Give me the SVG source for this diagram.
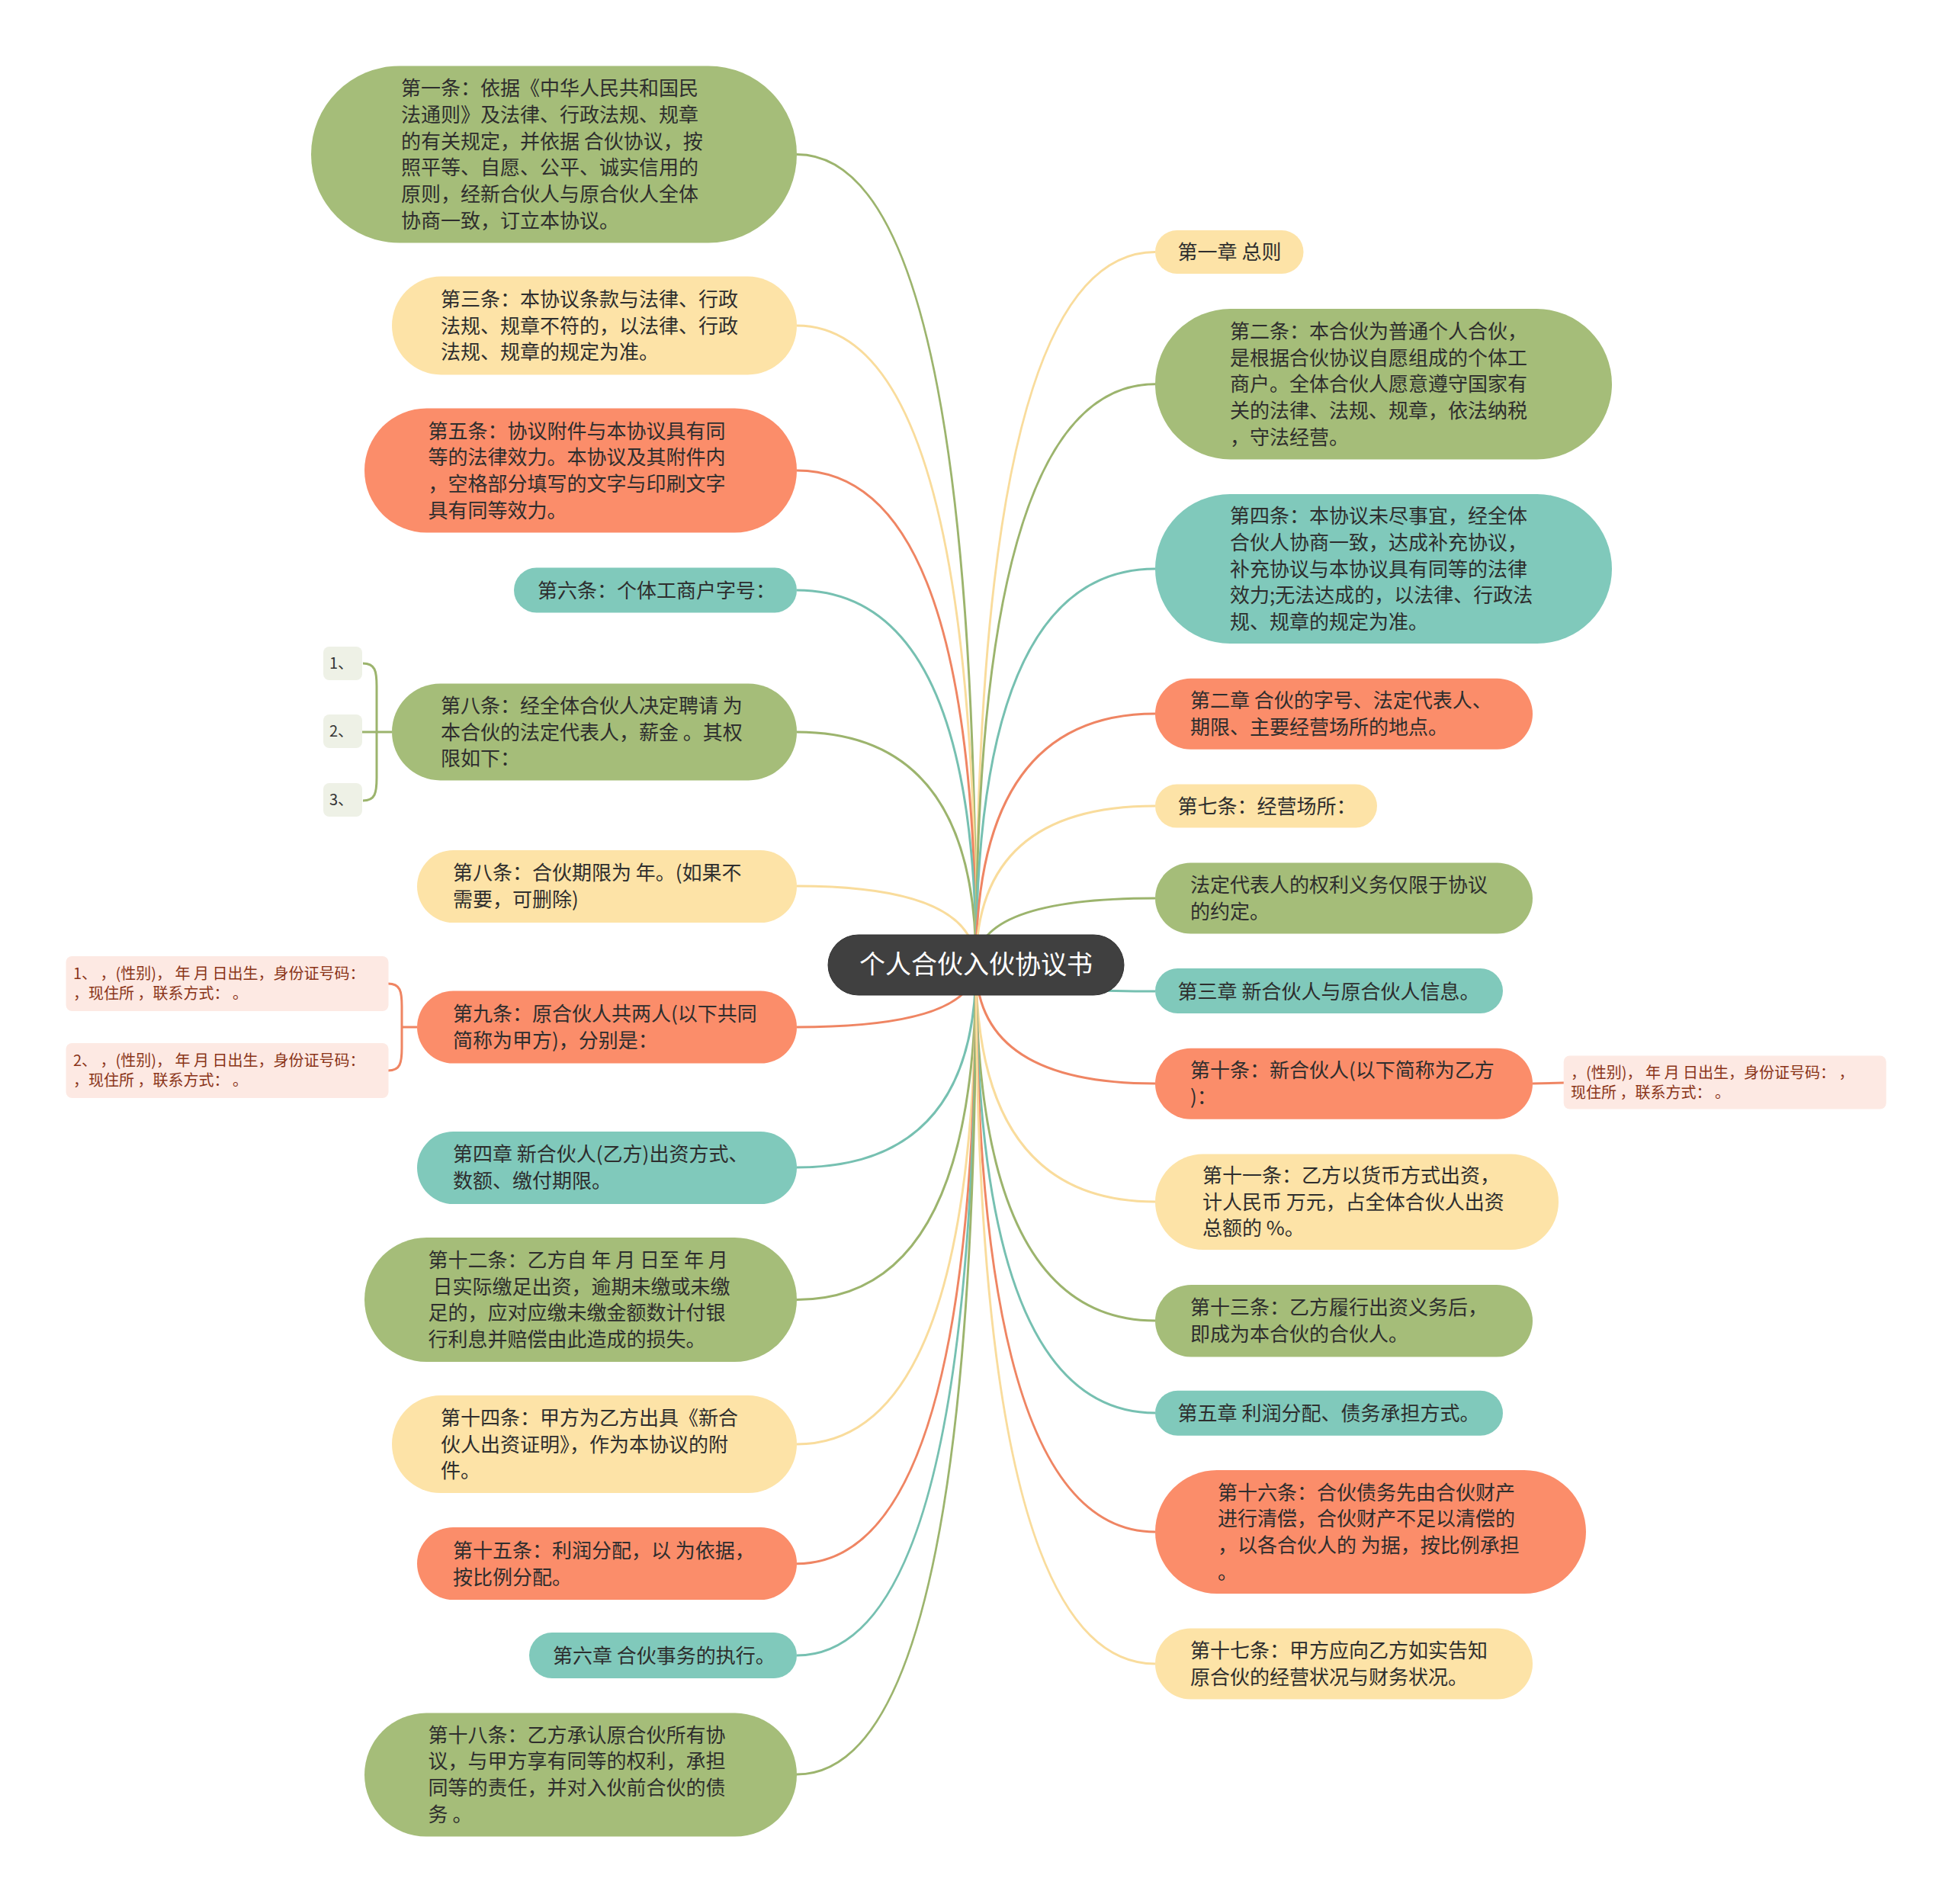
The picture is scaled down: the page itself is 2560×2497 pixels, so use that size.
<svg xmlns="http://www.w3.org/2000/svg" width="2560" height="2497" viewBox="0 0 2560 2497">
<style>
.t{font-family:"Noto Sans CJK SC","Noto Sans",sans-serif;font-size:26px;fill:#2e2e2e}
.s{font-family:"Noto Sans CJK SC","Noto Sans",sans-serif;font-size:20px;fill:#8a3418}
.n{font-family:"Noto Sans CJK SC","Noto Sans",sans-serif;font-size:20px;fill:#333}
.c{font-family:"Noto Sans CJK SC","Noto Sans",sans-serif;font-size:34px;fill:#fff}
.gr{fill:#a5bd79}.ye{fill:#fde3a7}.or{fill:#fb8d6a}.te{fill:#80c9bb}
.pk{fill:#fde9e3}.lg{fill:#eef1e6}
.lgr{stroke:#9cb46d}.lye{stroke:#f9dc9c}.lor{stroke:#ef8563}.lte{stroke:#76c0b1}
#connectors path{fill:none;stroke-width:3}
</style>
<rect width="2560" height="2497" fill="#fff"/>
<g id="connectors">
<path class="lgr" d="M1280,1265 Q1280,202.5 1045,202.5"/>
<path class="lye" d="M1280,1265 Q1280,427 1045,427"/>
<path class="lor" d="M1280,1265 Q1280,617 1045,617"/>
<path class="lte" d="M1280,1265 Q1280,774 1045,774"/>
<path class="lgr" d="M1280,1265 Q1280,960 1045,960"/>
<path class="lye" d="M1280,1265 Q1280,1162 1045,1162"/>
<path class="lor" d="M1280,1265 Q1280,1347 1045,1347"/>
<path class="lte" d="M1280,1265 Q1280,1531 1045,1531"/>
<path class="lgr" d="M1280,1265 Q1280,1704.5 1045,1704.5"/>
<path class="lye" d="M1280,1265 Q1280,1894 1045,1894"/>
<path class="lor" d="M1280,1265 Q1280,2050.7 1045,2050.7"/>
<path class="lte" d="M1280,1265 Q1280,2171 1045,2171"/>
<path class="lgr" d="M1280,1265 Q1280,2327 1045,2327"/>
<path class="lye" d="M1280,1265 Q1280,330.6 1515,330.6"/>
<path class="lgr" d="M1280,1265 Q1280,503.7 1515,503.7"/>
<path class="lte" d="M1280,1265 Q1280,746 1515,746"/>
<path class="lor" d="M1280,1265 Q1280,936 1515,936"/>
<path class="lye" d="M1280,1265 Q1280,1057 1515,1057"/>
<path class="lgr" d="M1280,1265 Q1280,1178 1515,1178"/>
<path class="lte" d="M1280,1265 Q1280,1300 1515,1300"/>
<path class="lor" d="M1280,1265 Q1280,1421 1515,1421"/>
<path class="lye" d="M1280,1265 Q1280,1576 1515,1576"/>
<path class="lgr" d="M1280,1265 Q1280,1732 1515,1732"/>
<path class="lte" d="M1280,1265 Q1280,1853 1515,1853"/>
<path class="lor" d="M1280,1265 Q1280,2009 1515,2009"/>
<path class="lye" d="M1280,1265 Q1280,2182 1515,2182"/>
<path class="lgr" d="M514,960 L475,960 M476,870 C492,870 494,880 494,900 L494,1020 C494,1040 492,1050 476,1050"/>
<path class="lor" d="M547,1347 L527,1347 M509,1290 C525,1290 527,1300 527,1320 L527,1374 C527,1394 525,1404 509,1404"/>
<path class="lor" d="M2010,1421 L2051,1420"/>
</g>
<g id="center">
<rect x="1086" y="1226" width="388" height="79" rx="39.5" fill="#404040" stroke="#333" stroke-width="1"/>
<text class="c" x="1280" y="1277" text-anchor="middle">个人合伙入伙协议书</text>
</g>
<g id="n-l1"><rect class="gr" x="408" y="86.5" width="637" height="232" rx="116"/>
<text class="t"><tspan x="526" y="125.3">第一条：依据《中华人民共和国民</tspan><tspan x="526" y="160">法通则》及法律、行政法规、规章</tspan><tspan x="526" y="194.7">的有关规定，并依据 合伙协议，按</tspan><tspan x="526" y="229.4">照平等、自愿、公平、诚实信用的</tspan><tspan x="526" y="264.1">原则，经新合伙人与原合伙人全体</tspan><tspan x="526" y="298.8">协商一致，订立本协议。</tspan></text></g>
<g id="n-l2"><rect class="ye" x="514" y="362.5" width="531" height="129" rx="64.5"/>
<text class="t"><tspan x="578" y="401.8">第三条：本协议条款与法律、行政</tspan><tspan x="578" y="436.5">法规、规章不符的，以法律、行政</tspan><tspan x="578" y="471.2">法规、规章的规定为准。</tspan></text></g>
<g id="n-l3"><rect class="or" x="478" y="535.5" width="567" height="163" rx="81.5"/>
<text class="t"><tspan x="561.6" y="574.5">第五条：协议附件与本协议具有同</tspan><tspan x="561.6" y="609.2">等的法律效力。本协议及其附件内</tspan><tspan x="561.6" y="643.9">，空格部分填写的文字与印刷文字</tspan><tspan x="561.6" y="678.6">具有同等效力。</tspan></text></g>
<g id="n-l4"><rect class="te" x="674" y="744.5" width="371" height="59" rx="29.5"/>
<text class="t" x="705" y="783.5">第六条：个体工商户字号：</text></g>
<g id="n-l5"><rect class="gr" x="514" y="896.4" width="531" height="127" rx="63.5"/>
<text class="t"><tspan x="578" y="934.8">第八条：经全体合伙人决定聘请 为</tspan><tspan x="578" y="969.5">本合伙的法定代表人，薪金 。其权</tspan><tspan x="578" y="1004.2">限如下：</tspan></text></g>
<g id="n-l5a"><rect class="lg" x="424" y="848" width="51" height="44" rx="8"/><text class="n" x="432" y="877">1、</text></g>
<g id="n-l5b"><rect class="lg" x="424" y="937" width="51" height="44" rx="8"/><text class="n" x="432" y="966">2、</text></g>
<g id="n-l5c"><rect class="lg" x="424" y="1027" width="51" height="44" rx="8"/><text class="n" x="432" y="1056">3、</text></g>
<g id="n-l6"><rect class="ye" x="547" y="1115" width="498" height="95" rx="47.5"/>
<text class="t"><tspan x="594" y="1154.2">第八条：合伙期限为 年。(如果不</tspan><tspan x="594" y="1188.9">需要，可删除)</tspan></text></g>
<g id="n-l7"><rect class="or" x="547" y="1299.6" width="498" height="95" rx="47.5"/>
<text class="t"><tspan x="594" y="1339.2">第九条：原合伙人共两人(以下共同</tspan><tspan x="594" y="1373.9">简称为甲方)，分别是：</tspan></text></g>
<g id="n-l7a"><rect class="pk" x="86.5" y="1254" width="423" height="72" rx="8"/>
<text class="s"><tspan x="96" y="1284">1、 ，(性别)， 年 月 日出生，身份证号码：</tspan><tspan x="96" y="1310">，现住所 ，联系方式： 。</tspan></text></g>
<g id="n-l7b"><rect class="pk" x="86.5" y="1368" width="423" height="72" rx="8"/>
<text class="s"><tspan x="96" y="1398">2、 ，(性别)， 年 月 日出生，身份证号码：</tspan><tspan x="96" y="1424">，现住所 ，联系方式： 。</tspan></text></g>
<g id="n-l8"><rect class="te" x="547" y="1484" width="498" height="95" rx="47.5"/>
<text class="t"><tspan x="594" y="1523.2">第四章 新合伙人(乙方)出资方式、</tspan><tspan x="594" y="1557.9">数额、缴付期限。</tspan></text></g>
<g id="n-l9"><rect class="gr" x="478" y="1623" width="567" height="163" rx="81.5"/>
<text class="t"><tspan x="561.6" y="1662">第十二条：乙方自 年 月 日至 年 月</tspan><tspan x="561.6" y="1696.7"> 日实际缴足出资，逾期未缴或未缴</tspan><tspan x="561.6" y="1731.4">足的，应对应缴未缴金额数计付银</tspan><tspan x="561.6" y="1766.1">行利息并赔偿由此造成的损失。</tspan></text></g>
<g id="n-l10"><rect class="ye" x="514" y="1830" width="531" height="128" rx="64"/>
<text class="t"><tspan x="578" y="1868.8">第十四条：甲方为乙方出具《新合</tspan><tspan x="578" y="1903.5">伙人出资证明》，作为本协议的附</tspan><tspan x="578" y="1938.2">件。</tspan></text></g>
<g id="n-l11"><rect class="or" x="547" y="2003" width="498" height="95" rx="47.5"/>
<text class="t"><tspan x="594" y="2042.9">第十五条：利润分配，以 为依据，</tspan><tspan x="594" y="2077.6">按比例分配。</tspan></text></g>
<g id="n-l12"><rect class="te" x="694" y="2141" width="351" height="60" rx="30"/>
<text class="t" x="725" y="2180.5">第六章 合伙事务的执行。</text></g>
<g id="n-l13"><rect class="gr" x="478" y="2246.6" width="567" height="162" rx="81"/>
<text class="t"><tspan x="561.6" y="2284.5">第十八条：乙方承认原合伙所有协</tspan><tspan x="561.6" y="2319.2">议，与甲方享有同等的权利，承担</tspan><tspan x="561.6" y="2353.9">同等的责任，并对入伙前合伙的债</tspan><tspan x="561.6" y="2388.6">务 。</tspan></text></g>
<g id="n-r1"><rect class="ye" x="1515" y="302" width="194.5" height="57" rx="28.5"/>
<text class="t" x="1544.6" y="340.1">第一章 总则</text></g>
<g id="n-r2"><rect class="gr" x="1515" y="405" width="599" height="197.5" rx="98.7"/>
<text class="t"><tspan x="1613" y="443.8">第二条：本合伙为普通个人合伙，</tspan><tspan x="1613" y="478.5">是根据合伙协议自愿组成的个体工</tspan><tspan x="1613" y="513.2">商户。全体合伙人愿意遵守国家有</tspan><tspan x="1613" y="547.9">关的法律、法规、规章，依法纳税</tspan><tspan x="1613" y="582.6">，守法经营。</tspan></text></g>
<g id="n-r3"><rect class="te" x="1515" y="648" width="599" height="196" rx="98"/>
<text class="t"><tspan x="1613" y="686.1">第四条：本协议未尽事宜，经全体</tspan><tspan x="1613" y="720.8">合伙人协商一致，达成补充协议，</tspan><tspan x="1613" y="755.5">补充协议与本协议具有同等的法律</tspan><tspan x="1613" y="790.2">效力;无法达成的，以法律、行政法</tspan><tspan x="1613" y="824.9">规、规章的规定为准。</tspan></text></g>
<g id="n-r4"><rect class="or" x="1515" y="889.8" width="495" height="93" rx="46.5"/>
<text class="t"><tspan x="1561" y="928.2">第二章 合伙的字号、法定代表人、</tspan><tspan x="1561" y="962.9">期限、主要经营场所的地点。</tspan></text></g>
<g id="n-r5"><rect class="ye" x="1515" y="1028.6" width="291" height="57" rx="28.5"/>
<text class="t" x="1544.6" y="1066.5">第七条：经营场所：</text></g>
<g id="n-r6"><rect class="gr" x="1515" y="1131.5" width="495" height="93" rx="46.5"/>
<text class="t"><tspan x="1561" y="1170.2">法定代表人的权利义务仅限于协议</tspan><tspan x="1561" y="1204.9">的约定。</tspan></text></g>
<g id="n-r7"><rect class="te" x="1515" y="1270" width="456" height="59" rx="29.5"/>
<text class="t" x="1544.6" y="1309.5">第三章 新合伙人与原合伙人信息。</text></g>
<g id="n-r8"><rect class="or" x="1515" y="1374.7" width="495" height="93" rx="46.5"/>
<text class="t"><tspan x="1561" y="1413.2">第十条：新合伙人(以下简称为乙方</tspan><tspan x="1561" y="1447.9">)：</tspan></text></g>
<g id="n-r8a"><rect class="pk" x="2050.7" y="1384.5" width="423" height="70" rx="8"/>
<text class="s"><tspan x="2060" y="1413.6">，(性别)， 年 月 日出生，身份证号码： ，</tspan><tspan x="2060" y="1439.6">现住所 ，联系方式： 。</tspan></text></g>
<g id="n-r9"><rect class="ye" x="1515" y="1513.5" width="529" height="125.5" rx="62.7"/>
<text class="t"><tspan x="1577" y="1550.8">第十一条：乙方以货币方式出资，</tspan><tspan x="1577" y="1585.5">计人民币 万元，占全体合伙人出资</tspan><tspan x="1577" y="1620.2">总额的 %。</tspan></text></g>
<g id="n-r10"><rect class="gr" x="1515" y="1685" width="495" height="94.6" rx="47.3"/>
<text class="t"><tspan x="1561" y="1724.2">第十三条：乙方履行出资义务后，</tspan><tspan x="1561" y="1758.9">即成为本合伙的合伙人。</tspan></text></g>
<g id="n-r11"><rect class="te" x="1515" y="1823.7" width="456" height="59" rx="29.5"/>
<text class="t" x="1544.6" y="1862.5">第五章 利润分配、债务承担方式。</text></g>
<g id="n-r12"><rect class="or" x="1515" y="1928" width="565" height="162" rx="81"/>
<text class="t"><tspan x="1597" y="1966.5">第十六条：合伙债务先由合伙财产</tspan><tspan x="1597" y="2001.2">进行清偿，合伙财产不足以清偿的</tspan><tspan x="1597" y="2035.9">，以各合伙人的 为据，按比例承担</tspan><tspan x="1597" y="2070.6">。</tspan></text></g>
<g id="n-r13"><rect class="ye" x="1515" y="2135.6" width="495" height="93" rx="46.5"/>
<text class="t"><tspan x="1561" y="2174.2">第十七条：甲方应向乙方如实告知</tspan><tspan x="1561" y="2208.9">原合伙的经营状况与财务状况。</tspan></text></g>
</svg>
